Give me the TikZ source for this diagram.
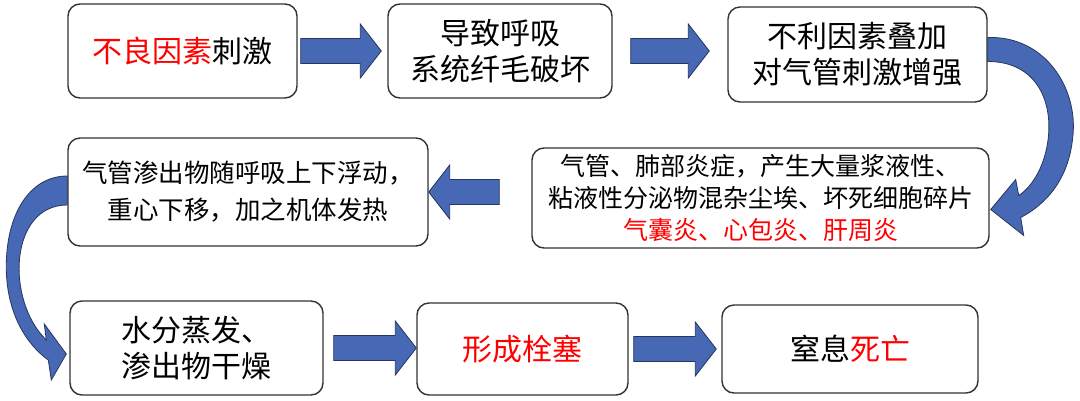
\documentclass[tikz,border=0pt]{standalone}
\usepackage{fontspec}
\setmainfont{Noto Sans CJK SC}
\usepackage{tikz}
\usetikzlibrary{calc}
\definecolor{arrowblue}{HTML}{4769B5}
\definecolor{arrowline}{HTML}{26365C}
\definecolor{boxline}{HTML}{333333}
\definecolor{hlred}{HTML}{FF0000}

\tikzset{
	box/.style={draw=boxline, fill=white, rounded corners=12pt, line width=1.4pt, align=center, inner sep=0pt},
	bigtext/.style={font=\fontsize{30}{36}\selectfont},
	smalltext/.style={font=\fontsize{25}{32}\selectfont},
	blockarrow/.style={draw=arrowline, fill=arrowblue, line width=0.8pt,
		to path={let \p1=(\tikztostart), \p2=(\tikztotarget), \n1={(\x2-\x1)/abs(\x2-\x1)} in
			(\x1,\y1+12.5pt) -- (\x2-\n1*21pt,\y1+12.5pt) -- (\x2-\n1*21pt,\y1+27pt)
			-- (\x2,\y1) -- (\x2-\n1*21pt,\y1-27pt) -- (\x2-\n1*21pt,\y1-12.5pt)
			-- (\x1,\y1-12.5pt) -- cycle}},
	bendarrow/.style={draw=arrowline, fill=arrowblue, line width=0.8pt}
}

\begin{document}
\begin{tikzpicture}[x=1pt, y=-1pt]
	\useasboundingbox (0,0) rectangle (1080,400);

	% first row
	\node[box, bigtext, minimum width=229pt, minimum height=94pt] (b1) at (182.5,51) {\textcolor{hlred}{不良因素}刺激};
	\node[box, bigtext, minimum width=224pt, minimum height=94pt] (b2) at (500,51) {导致呼吸\\系统纤毛破坏};
	\node[box, bigtext, minimum width=259pt, minimum height=95pt] (b3) at (857.5,54.5) {不利因素叠加\\对气管刺激增强};

	% second row
	\node[box, smalltext, minimum width=457pt, minimum height=100pt] (b4) at (760.5,198) {气管、肺部炎症，产生大量浆液性、\\粘液性分泌物混杂尘埃、坏死细胞碎片\\\textcolor{hlred}{气囊炎、心包炎、肝周炎}};
	\node[box, smalltext, font=\fontsize{25.5}{37}\selectfont, minimum width=360pt, minimum height=108pt] (b5) at (248,192) {气管渗出物随呼吸上下浮动，\\重心下移，加之机体发热};

	% third row
	\node[box, bigtext, minimum width=253pt, minimum height=94pt] (b6) at (196.5,348) {水分蒸发、\\渗出物干燥};
	\node[box, bigtext, minimum width=211pt, minimum height=92pt] (b7) at (522.5,349) {\textcolor{hlred}{形成栓塞}};
	\node[box, bigtext, minimum width=256pt, minimum height=88pt] (b8) at (850,349) {窒息\textcolor{hlred}{死亡}};

	% straight arrows
	\draw[blockarrow] ([xshift=3pt]b1.east) to ([xshift=-6pt]b2.west);
	\draw[blockarrow] ([xshift=18pt]b2.east) to ([xshift=-18pt]b3.west);
	\draw[blockarrow] ($(b4.west |- b5.east)+(-32,0)$) to (b5.east);
	\draw[blockarrow] ([xshift=10pt]b6.east) to (b7.west);
	\draw[blockarrow] ([xshift=5pt]b7.east) to ([xshift=-5pt]b8.west);

	% curved arrows between rows
	\begin{scope}[shift={(b3.east)}]
		\draw[bendarrow] (0,-17) .. controls (58,-19) and (91,35) .. (85,83)
			.. controls (81,125) and (58,150) .. (33,163) -- (36,181) -- (3,155) -- (28,125) -- (31,141)
			.. controls (71,115) and (81,7) .. (0,7) -- cycle;
	\end{scope}
	\begin{scope}[shift={(b5.west)}]
		\draw[bendarrow] (0,-16) .. controls (-38,-16) and (-62,23) .. (-61,78)
			.. controls (-60,123) and (-40,153) .. (-19,168) -- (-16,188) -- (-1,162) -- (-23,132) -- (-21,148)
			.. controls (-62,108) and (-58,13) .. (0,13) -- cycle;
	\end{scope}
\end{tikzpicture}
\end{document}
